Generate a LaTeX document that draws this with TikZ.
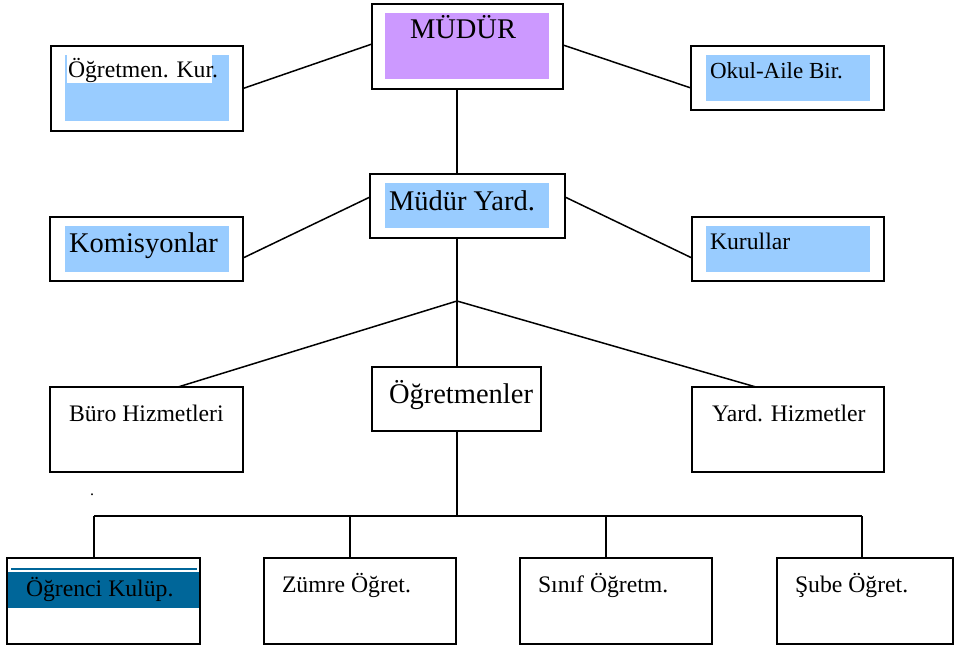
\documentclass[tikz,border=0pt]{standalone}
\usepackage{fontspec}
\setmainfont{Liberation Serif}
\definecolor{lblue}{HTML}{99CCFF}
\definecolor{lpurple}{HTML}{CC99FF}
\definecolor{dblue}{HTML}{006699}
\begin{document}
\begin{tikzpicture}[x=1pt,y=-1pt,
  box/.style={draw=black,line width=1.6pt,rectangle,inner sep=0pt,outer sep=0pt,anchor=north west},
  conn/.style={draw=black,line width=1.5pt},
  lbl/.style={anchor=base west,inner sep=0pt,outer sep=0pt,font=\fontsize{23.7}{28}\selectfont},
  biglbl/.style={lbl,font=\fontsize{28.5}{34}\selectfont}]
\useasboundingbox (0,0) rectangle (960,648);
% fills
\fill[lblue] (65,55) rectangle (229,121);
\fill[white] (67,55) rectangle (212,83);
\fill[lpurple] (385,13) rectangle (549,79);
\fill[lblue] (706,55) rectangle (870,101);
\fill[lblue] (385,183) rectangle (549,228);
\fill[lblue] (65,226) rectangle (229,272);
\fill[lblue] (706,226) rectangle (870,272);
\fill[dblue] (11,567.5) rectangle (197,569.5);
\fill[dblue] (8,571.5) rectangle (199,608);
% boxes
\node[box,minimum width=192pt,minimum height=85pt] (kur) at (51,46) {};
\node[box,minimum width=191pt,minimum height=85pt] (mudur) at (372,4) {};
\node[box,minimum width=193pt,minimum height=64pt] (okul) at (691,46) {};
\node[box,minimum width=195pt,minimum height=64pt] (yard) at (370,174) {};
\node[box,minimum width=193pt,minimum height=64pt] (kom) at (50,217) {};
\node[box,minimum width=192pt,minimum height=64pt] (kurl) at (692,217) {};
\node[box,minimum width=169pt,minimum height=64pt] (ogrt) at (372,367) {};
\node[box,minimum width=193pt,minimum height=85pt] (buro) at (50,387) {};
\node[box,minimum width=192pt,minimum height=85pt] (yhiz) at (692,387) {};
\node[box,minimum width=193pt,minimum height=86pt] (ogk) at (7,558) {};
\node[box,minimum width=192pt,minimum height=86pt] (zum) at (264,558) {};
\node[box,minimum width=192pt,minimum height=86pt] (sin) at (520,558) {};
\node[box,minimum width=176pt,minimum height=86pt] (sube) at (777,558) {};
% labels
\node[lbl] (tkur) at (68,77) {Öğretmen. Kur.};
\node[biglbl] (tmudur) at (410,38) {MÜDÜR};
\node[lbl,font=\fontsize{23}{27}\selectfont] (tokul) at (710,78) {Okul-Aile Bir.};
\node[biglbl] (tyard) at (389,210) {Müdür Yard.};
\node[biglbl] (tkom) at (69,252) {Komisyonlar};
\node[lbl] (tkurl) at (710,249) {Kurullar};
\node[biglbl] (togrt) at (389,403) {Öğretmenler};
\node[lbl] (tburo) at (69,421) {Büro Hizmetleri};
\node[lbl] (tyhiz) at (712,421) {Yard. Hizmetler};
\node[lbl] (togk) at (26,596) {Öğrenci Kulüp.};
\node[lbl] (tzum) at (282,592) {Zümre Öğret.};
\node[lbl] (tsin) at (538,592) {Sınıf Öğretm.};
\node[lbl] (tsube) at (795,592) {Şube Öğret.};
\node[lbl,font=\fontsize{16}{18}\selectfont] (tdot) at (90,495) {.};
% coordinates
\coordinate (j) at (457,301);
\coordinate (b) at (457,516);
\coordinate (d1) at (94,516);
\coordinate (d2) at (350,516);
\coordinate (d3) at (606,516);
\coordinate (d4) at (862,516);
% connectors
\draw[conn] (mudur.west |- 0,44) -- (kur.east);
\draw[conn] (mudur.east |- 0,45) -- (okul.west |- 0,88);
\draw[conn] (mudur.south -| 457,0) -- (yard.north -| 457,0);
\draw[conn] (yard.west |- 0,197) -- (kom.east |- 0,258);
\draw[conn] (yard.east |- 0,197) -- (kurl.west |- 0,258);
\draw[conn] (yard.south -| 457,0) -- (j);
\draw[conn] (j) -- (buro.north -| 178,0);
\draw[conn] (j) -- (yhiz.north -| 756,0);
\draw[conn] (j) -- (ogrt.north -| 457,0);
\draw[conn] (ogrt.south -| 457,0) -- (b);
\draw[conn] (d1) -- (d4);
\draw[conn] (d1) -- (d1 |- ogk.north);
\draw[conn] (d2) -- (d2 |- zum.north);
\draw[conn] (d3) -- (d3 |- sin.north);
\draw[conn] (d4) -- (d4 |- sube.north);
\end{tikzpicture}
\end{document}
